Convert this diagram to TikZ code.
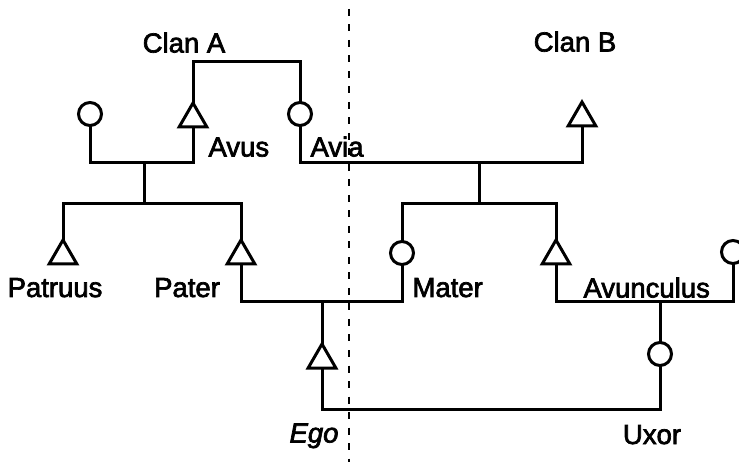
\documentclass[tikz,border=0pt]{standalone}
\usepackage{fontspec}
\setmainfont{Liberation Sans}
\newfontfamily\labelfont[FakeBold=2.5]{Liberation Sans}
\usetikzlibrary{shapes.geometric}
\begin{document}
\begin{tikzpicture}[x=1pt,y=-1pt,
  line width=3pt,
  male/.style={draw, regular polygon, regular polygon sides=3,
    minimum size=32pt, inner sep=0pt, outer sep=0pt},
  female/.style={draw, circle, minimum size=23pt, inner sep=0pt, outer sep=0pt},
  lbl/.style={font=\labelfont\fontsize{27.5}{30}\selectfont, inner sep=0pt, anchor=base west},
  clbl/.style={lbl, anchor=base},
  divider/.style={line width=2.6pt, dash pattern=on 7pt off 8.5pt}]
\useasboundingbox (0,0) rectangle (739,462);

% clan boundary
\coordinate (dtop) at (349,9);
\coordinate (dbot) at (349,462);
\draw[divider] (dtop) -- (dbot);

% persons
\node[male]   (avus)    at (193,119) {};
\node[female] (avia)    at (300,114) {};
\node[female] (gwife)   at (90,114)  {};
\node[male]   (clanb)   at (582,118) {};
\node[male]   (patruus) at (63,256)  {};
\node[male]   (pater)   at (241,256) {};
\node[female] (mater)   at (402,253) {};
\node[male]   (avunc)   at (556,256) {};
\node[female] (awife)   at (733,252) {};
\node[male]   (ego)     at (322,360) {};
\node[female] (uxor)    at (660,354) {};

% junction points
\coordinate (clanabar) at (246,62);
\coordinate (j1) at (144,163);
\coordinate (s1) at (144,204);
\coordinate (j2) at (479,163);
\coordinate (s2) at (479,204);
\coordinate (j3) at (322,302);
\coordinate (j4) at (660,302);
\coordinate (j5) at (490,409);

% sibling link of clan A
\draw (avus.north) |- (clanabar) -| (avia.north);
% marriages and descent
\draw (gwife.south) |- (j1) -| (avus.south);
\draw (j1) -- (s1);
\draw (patruus.north) |- (s1) -| (pater.north);
\draw (avia.south) |- (j2) -| (clanb.south);
\draw (j2) -- (s2);
\draw (mater.north) |- (s2) -| (avunc.north);
\draw (pater.south) |- (j3) -| (mater.south);
\draw (j3) -- (ego.north);
\draw (avunc.south) |- (j4) -| (awife.south);
\draw (j4) -- (uxor.north);
\draw (ego.south) |- (j5) -| (uxor.south);

% labels
\node[clbl] (tclana) at (184,52.5) {Clan A};
\node[clbl] (tclanb) at (575,51.5) {Clan B};
\node[lbl]  (tavus)  at (207,156.5) {Avus};
\node[lbl]  (tavia)  at (309,156.5) {Avia};
\node[clbl] (tpatruus) at (55,297) {Patruus};
\node[clbl] (tpater) at (187,297) {Pater};
\node[lbl]  (tmater) at (411,297) {Mater};
\node[lbl]  (tavunc) at (582,297.5) {Avunculus};
\node[clbl] (tego)   at (314,442.5) {\itshape Ego};
\node[clbl] (tuxor)  at (652,444) {Uxor};
\end{tikzpicture}
\end{document}
